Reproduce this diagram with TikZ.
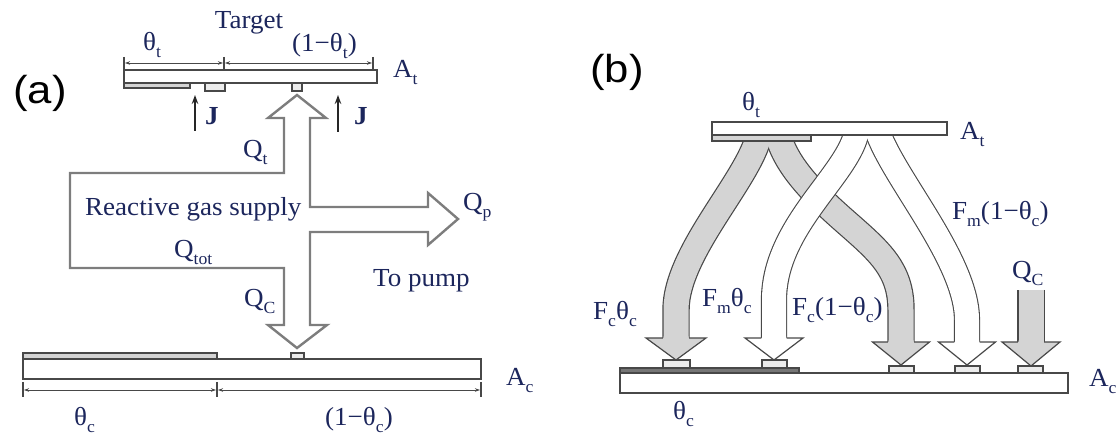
\documentclass[tikz,border=0pt]{standalone}
\usepackage{fontspec}
\setmainfont{Liberation Serif}[FakeStretch=1.04]
\newfontfamily\labfont{Liberation Sans}[FakeStretch=1.12]
\usetikzlibrary{arrows.meta}
\definecolor{txt}{RGB}{28,38,92}
\definecolor{pipe}{RGB}{125,125,125}
\definecolor{edge}{RGB}{72,72,72}
\definecolor{band}{RGB}{212,212,212}
\newcommand\sbs[1]{\raisebox{-0.24em}{\fontsize{17}{17}\selectfont #1}}
% arrow head: #1 cx, #2 base y, #3 half head width, #4 tip y, #5 half band width, #6 fill
\newcommand\headat[6]{%
  \fill[#6] ({#1-#5},{#2-1.5}) -- ({#1+#5},{#2-1.5}) -- ({#1+#5},#2) -- ({#1+#3},#2) -- (#1,#4) -- ({#1-#3},#2) -- ({#1-#5},#2) -- cycle;
  \draw[bedge] ({#1-#5-0.6},#2) -- ({#1-#3},#2) -- (#1,#4) -- ({#1+#3},#2) -- ({#1+#5+0.6},#2);}
\begin{document}
\begin{tikzpicture}[x=1pt,y=-1pt,line join=miter,
  plate/.style={draw=edge,line width=1.6pt,fill=white},
  layer/.style={draw=edge,line width=1.3pt,fill=band},
  darklayer/.style={draw=edge,line width=1.2pt,fill=edge!75},
  pad/.style={draw=edge,line width=1.3pt,fill=band!45},
  tickline/.style={draw=edge,line width=1.3pt},
  dimarr/.style={draw=edge,line width=0.8pt,{Stealth[length=5pt,width=3.5pt]}-{Stealth[length=5pt,width=3.5pt]}},
  jarr/.style={draw=black!85,line width=1.6pt,-{Stealth[length=9pt,width=6.5pt]}},
  pipeline/.style={draw=pipe,line width=2.4pt},
  bedge/.style={draw=edge,line width=1.2pt},
  lab/.style={text=txt,inner sep=0pt,anchor=base west,font=\fontsize{26}{26}\selectfont},
  panel/.style={inner sep=0pt,font=\labfont\fontsize{39}{39}\selectfont}]
\useasboundingbox (0,0) rectangle (1120,438);

% ================= (a) =================
\node[panel] (pa) at (40,93) {(a)};
% target
\draw[plate] (124,70) rectangle (377,83);
\draw[layer] (124,83) rectangle (190,88);
\draw[pad] (205,83) rectangle (225,91);
\draw[pad] (292,83) rectangle (302,91);
% top dimensions
\draw[tickline] (124,57) -- (124,69);
\draw[tickline] (224,57) -- (224,69);
\draw[tickline] (373,57) -- (373,69);
\draw[dimarr] (125,63) -- (223,63);
\draw[dimarr] (225,63) -- (372,63);
% J arrows
\draw[jarr] (195,131) -- (195,95);
\draw[jarr] (338,132) -- (338,95);
% pipe outline
\draw[pipeline] (284,118) -- (284,173) -- (70,173) -- (70,268) -- (284,268) -- (284,325)
  -- (268,325) -- (297,348) -- (327,325) -- (310,325) -- (310,232) -- (428,232)
  -- (428,245) -- (458,219) -- (428,193) -- (428,207) -- (310,207) -- (310,118)
  -- (326,118) -- (297,95) -- (268,118) -- cycle;
% bottom plate
\draw[plate] (23,359) rectangle (481,379);
\draw[layer] (23,353) rectangle (217,359);
\draw[pad] (291,353) rectangle (304,359);
\draw[tickline] (23,382) -- (23,397);
\draw[tickline] (217,382) -- (217,397);
\draw[tickline] (481,382) -- (481,397);
\draw[dimarr] (24,390) -- (216,390);
\draw[dimarr] (218,390) -- (480,390);
% labels (a)
\node[lab,anchor=base] (lTarget) at (249,29) {Target};
\node[lab] (lthetat) at (143,51) {θ\sbs{t}};
\node[lab] (lonemt) at (292,52) {(1−θ\sbs{t})};
\node[lab] (lAt) at (393,78) {A\sbs{t}};
\node[lab] (lJa) at (205,125) {\bfseries J};
\node[lab] (lJb) at (354,125) {\bfseries J};
\node[lab] (lQt) at (243,158) {Q\sbs{t}};
\node[lab] (lRGS) at (85,216) {Reactive gas supply};
\node[lab] (lQp) at (463,211) {Q\sbs{p}};
\node[lab] (lQtot) at (174,258) {Q\sbs{tot}};
\node[lab] (lQCa) at (244,307) {Q\sbs{C}};
\node[lab] (lpump) at (373,287) {To pump};
\node[lab] (lAca) at (506,386) {A\sbs{c}};
\node[lab] (lthetaca) at (74,426) {θ\sbs{c}};
\node[lab] (lonemc) at (325,426) {(1−θ\sbs{c})};

% ================= (b) =================
\node[panel] (pb) at (617,72) {(b)};
% gray band outlines
\draw[draw=edge,line width=27.4pt] (760,130) .. controls (754,175) and (676,250) .. (676,310) -- (676,338);
\draw[draw=edge,line width=27.4pt,line join=round] (777,130) .. controls (783,164) and (815,195) .. (847,223) .. controls (880,252) and (901,270) .. (901,310) -- (901,342);
\draw[draw=edge,line width=27.4pt] (1031,290) -- (1031,342);
% gray band fills
\draw[draw=band,line width=25pt] (760,130) .. controls (754,175) and (676,250) .. (676,310) -- (676,338);
\draw[draw=band,line width=25pt,line join=round] (777,130) .. controls (783,164) and (815,195) .. (847,223) .. controls (880,252) and (901,270) .. (901,310) -- (901,342);
\draw[draw=band,line width=25pt] (1031,290) -- (1031,342);
% white band outlines
\draw[draw=edge,line width=26.2pt] (857,130) .. controls (850,174) and (774,225) .. (774,300) -- (774,338);
\draw[draw=edge,line width=26.2pt] (877,130) .. controls (893,178) and (967,260) .. (967,320) -- (967,342);
% white band fills
\draw[draw=white,line width=24pt] (857,130) .. controls (850,174) and (774,225) .. (774,300) -- (774,338);
\draw[draw=white,line width=24pt] (877,130) .. controls (893,178) and (967,260) .. (967,320) -- (967,342);
% heads
\headat{676}{338}{30}{360}{12.5}{band}
\headat{774}{338}{29}{360}{12}{white}
\headat{901}{342}{28.5}{365}{12.5}{band}
\headat{967}{342}{28.5}{365}{12}{white}
\headat{1031}{342}{29}{366}{12.5}{band}
% target plate (b)
\draw[plate] (712,122) rectangle (947,135);
\draw[layer] (712,135) rectangle (811,141);
% bottom plate (b)
\draw[plate] (620,373) rectangle (1068,393);
\draw[darklayer] (620,368) rectangle (799,373);
\draw[pad] (663,360) rectangle (690,368);
\draw[pad] (762,360) rectangle (787,368);
\draw[pad] (889,366) rectangle (914,373);
\draw[pad] (955,366) rectangle (980,373);
\draw[pad] (1018,366) rectangle (1043,373);
% labels (b)
\node[lab] (lthetatb) at (742,111) {θ\sbs{t}};
\node[lab] (lAtb) at (960,140) {A\sbs{t}};
\node[lab] (lFm1) at (952,220) {F\sbs{m}(1−θ\sbs{c})};
\node[lab] (lQCb) at (1012,279) {Q\sbs{C}};
\node[lab] (lFct) at (593,320) {F\sbs{c}θ\sbs{c}};
\node[lab] (lFmt) at (702,307) {F\sbs{m}θ\sbs{c}};
\node[lab] (lFc1) at (792,316) {F\sbs{c}(1−θ\sbs{c})};
\node[lab] (lthetacb) at (673,420) {θ\sbs{c}};
\node[lab] (lAcb) at (1089,387) {A\sbs{c}};
\end{tikzpicture}
\end{document}
